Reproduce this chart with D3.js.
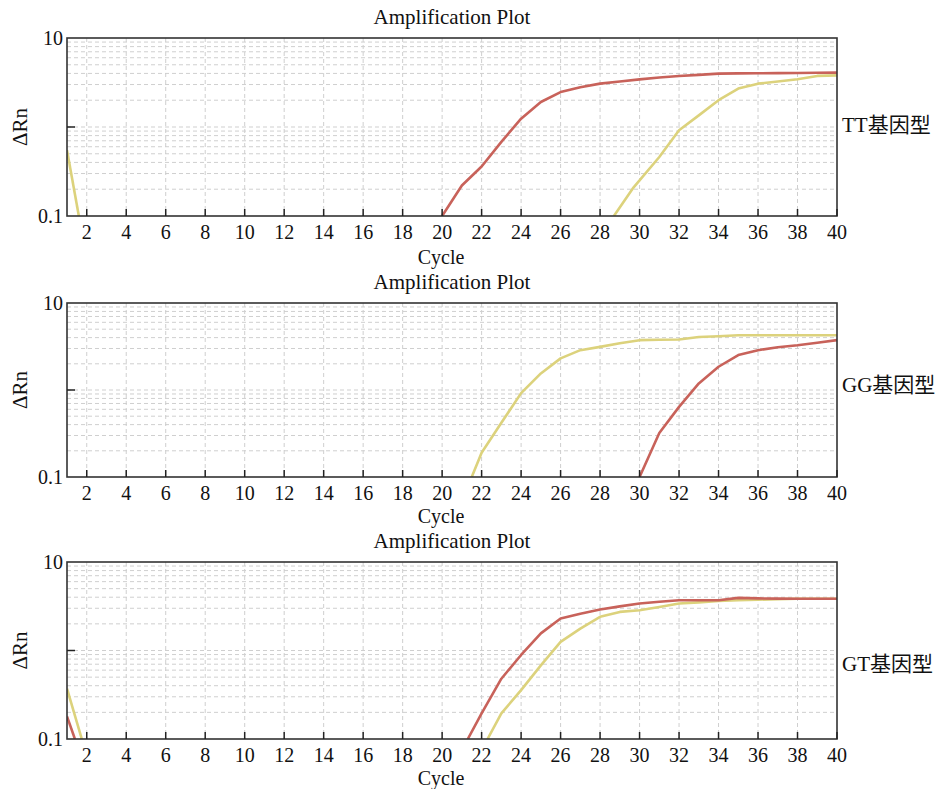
<!DOCTYPE html>
<html>
<head>
<meta charset="utf-8">
<script src="https://cdn.jsdelivr.net/npm/d3@7"></script>
<style>
  body { margin: 0; background: #fff; }
  text { font-family: "Liberation Serif", "Noto Sans CJK SC", serif; fill: #111; }
</style>
</head>
<body>
<svg id="chart" width="941" height="789"></svg>
<script>
// données (cycle, ΔRn)
const panelLabels = ["TT基因型", "GG基因型", "GT基因型"];
const xTicks = d3.range(2, 41, 2);
const yTickLabels = ["0.1", "10"];

const ttRed = [[20, 0.1], [21, 0.22], [22, 0.36], [23, 0.68], [24, 1.24], [25, 1.91], [26, 2.47], [27, 2.8], [28, 3.07], [29, 3.25], [30, 3.43], [31, 3.6], [32, 3.74], [33, 3.85], [34, 3.98], [35, 4.0], [36, 4.02], [37, 4.03], [38, 4.04], [39, 4.07], [40, 4.08]];
const ttYellow = [[1, 0.55], [1.6, 0.1]];
const ttYellow2 = [[28.7, 0.1], [29.7, 0.21], [31, 0.46], [32, 0.92], [33, 1.35], [34, 2.0], [35, 2.7], [36, 3.07], [37, 3.25], [38, 3.44], [39, 3.75], [40, 3.8]];

const ggYellow = [[21.5, 0.1], [22, 0.19], [23, 0.42], [24, 0.92], [25, 1.55], [26, 2.31], [27, 2.87], [28, 3.13], [29, 3.45], [30, 3.74], [31, 3.78], [32, 3.81], [33, 4.07], [34, 4.15], [35, 4.26], [36, 4.26], [37, 4.26], [38, 4.26], [39, 4.26], [40, 4.26]];
const ggRed = [[30, 0.1], [31, 0.32], [32, 0.64], [33, 1.19], [34, 1.85], [35, 2.52], [36, 2.87], [37, 3.1], [38, 3.27], [39, 3.5], [40, 3.74]];

const gtRed = [[1, 0.18], [1.4, 0.1]];
const gtRed2 = [[21.3, 0.1], [22, 0.195], [23, 0.48], [24, 0.89], [25, 1.56], [26, 2.3], [27, 2.6], [28, 2.9], [29, 3.15], [30, 3.39], [31, 3.55], [32, 3.7], [33, 3.7], [34, 3.7], [35, 3.93], [36, 3.88], [37, 3.86], [38, 3.85], [39, 3.85], [40, 3.85]];
const gtYellow = [[1, 0.37], [1.75, 0.1]];
const gtYellow2 = [[22.3, 0.1], [23, 0.195], [24, 0.357], [25, 0.68], [26, 1.25], [27, 1.77], [28, 2.4], [29, 2.73], [30, 2.85], [31, 3.1], [32, 3.39], [33, 3.5], [34, 3.63], [35, 3.7], [36, 3.75], [37, 3.8], [38, 3.85], [39, 3.85], [40, 3.85]];

const red = "#c8625a", yellow = "#dcd27c";

const panels = [
  { top: 38, bottom: 216, cycleDy: 48, label: panelLabels[0], labelDy: -2, series: [[ttYellow, yellow], [ttYellow2, yellow], [ttRed, red]] },
  { top: 303, bottom: 477, cycleDy: 46, label: panelLabels[1], labelDy: -5, series: [[ggYellow, yellow], [ggRed, red]] },
  { top: 562, bottom: 739, cycleDy: 46, label: panelLabels[2], labelDy: 13, series: [[gtYellow, yellow], [gtYellow2, yellow], [gtRed, red], [gtRed2, red]] }
];

const svg = d3.select("#chart");
const left = 67, right = 837;

const x = d3.scaleLinear().domain([1, 40]).range([left, right]);

panels.forEach((p, i) => {
  const y = d3.scaleLog().domain([0.1, 10]).range([p.bottom, p.top]);
  const g = svg.append("g");

  const clipId = "clip" + i;
  g.append("clipPath").attr("id", clipId)
    .append("rect")
    .attr("x", left).attr("y", p.top)
    .attr("width", right - left).attr("height", p.bottom - p.top);

  // grille
  const minor = [0.2, 0.3, 0.4, 0.5, 0.6, 0.7, 0.8, 0.9, 1, 2, 3, 4, 5, 6, 7, 8, 9];
  g.selectAll(".hg").data(minor).join("line")
    .attr("x1", left).attr("x2", right)
    .attr("y1", d => y(d)).attr("y2", d => y(d))
    .attr("stroke", "#cfcfcf").attr("stroke-dasharray", "4,3");
  g.selectAll(".vg").data(xTicks.filter(d => d < 40)).join("line")
    .attr("x1", d => x(d)).attr("x2", d => x(d))
    .attr("y1", p.top).attr("y2", p.bottom)
    .attr("stroke", "#cfcfcf").attr("stroke-dasharray", "4,3");

  // courbes
  const line = d3.line().x(d => x(d[0])).y(d => y(d[1]));
  const curves = g.append("g").attr("clip-path", `url(#${clipId})`);
  p.series.forEach(([data, color]) => {
    curves.append("path")
      .datum(data)
      .attr("d", line)
      .attr("fill", "none")
      .attr("stroke", color)
      .attr("stroke-width", 2.6)
      .attr("stroke-linejoin", "round");
  });

  // cadre
  g.append("rect")
    .attr("x", left).attr("y", p.top)
    .attr("width", right - left).attr("height", p.bottom - p.top)
    .attr("fill", "none").attr("stroke", "#333").attr("stroke-width", 1.6);

  // axe x
  g.selectAll(".xt").data(xTicks).join("line")
    .attr("x1", d => x(d)).attr("x2", d => x(d))
    .attr("y1", p.bottom).attr("y2", p.bottom - 7)
    .attr("stroke", "#222").attr("stroke-width", 1.5);
  g.selectAll(".xl").data(xTicks).join("text")
    .attr("x", d => x(d)).attr("y", p.bottom + 23)
    .attr("text-anchor", "middle").attr("font-size", 20)
    .text(d => d);

  // axe y
  g.append("line")
    .attr("x1", left).attr("x2", left + 8)
    .attr("y1", y(1)).attr("y2", y(1))
    .attr("stroke", "#222").attr("stroke-width", 1.5);
  g.selectAll(".yl").data([0.1, 10]).join("text")
    .attr("x", left - 4).attr("y", d => y(d) + 7)
    .attr("text-anchor", "end").attr("font-size", 20)
    .text((d, k) => yTickLabels[k]);

  // titres
  g.append("text")
    .attr("x", 452).attr("y", p.top - 14)
    .attr("text-anchor", "middle").attr("font-size", 21)
    .text("Amplification Plot");
  g.append("text")
    .attr("x", 441).attr("y", p.bottom + p.cycleDy)
    .attr("text-anchor", "middle").attr("font-size", 20)
    .text("Cycle");
  g.append("text")
    .attr("transform", `translate(27,${(p.top + p.bottom) / 2}) rotate(-90)`)
    .attr("text-anchor", "middle").attr("font-size", 21)
    .text("ΔRn");
  g.append("text")
    .attr("x", 842).attr("y", (p.top + p.bottom) / 2 + p.labelDy + 7)
    .attr("font-size", 21)
    .text(p.label);
});
</script>
</body>
</html>
